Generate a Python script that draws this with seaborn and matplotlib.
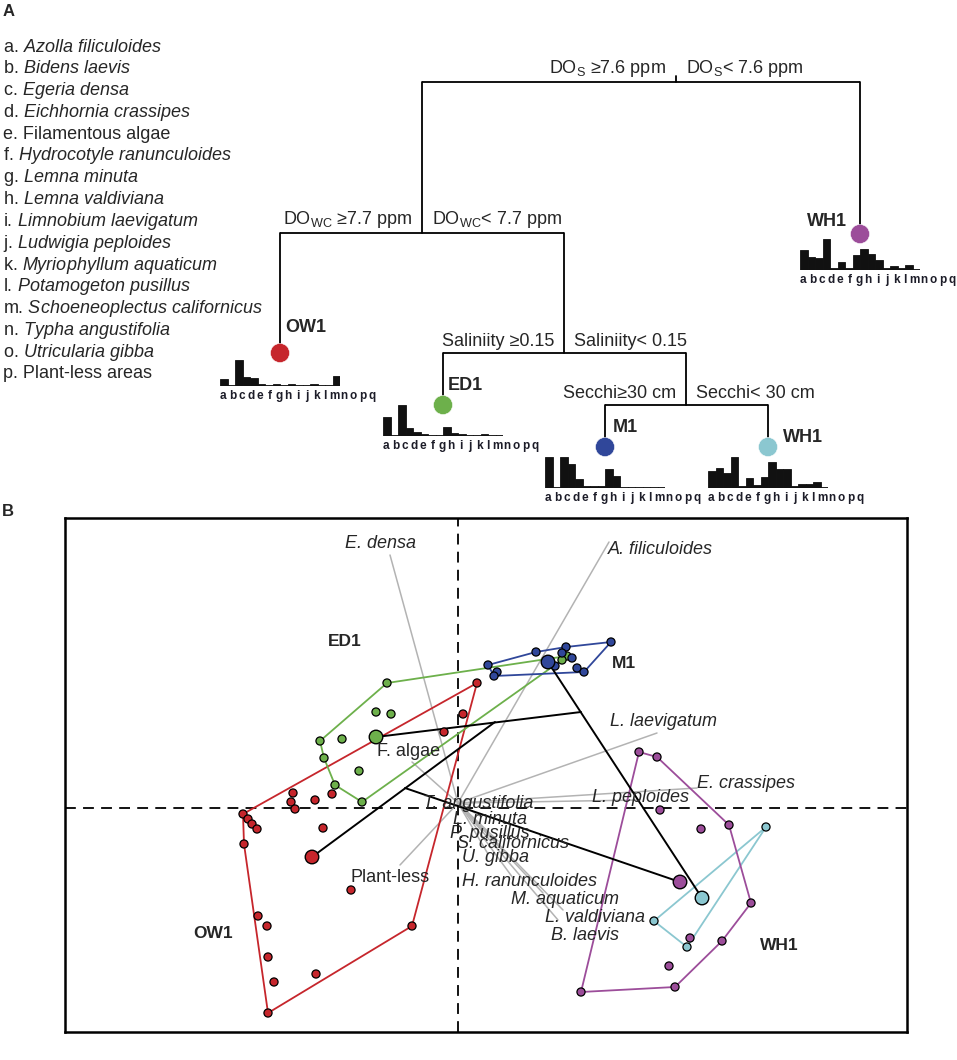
import numpy as np
import pandas as pd
import matplotlib
matplotlib.use("Agg")
import matplotlib.pyplot as plt
import seaborn as sns

# ---- panel A: species legend ----
species_letters = list("abcdefghijklmnop")
species_names = ["Azolla filiculoides", "Bidens laevis", "Egeria densa", "Eichhornia crassipes",
                 "Filamentous algae", "Hydrocotyle ranunculoides", "Lemna minuta", "Lemna valdiviana",
                 "Limnobium laevigatum", "Ludwigia peploides", "Myriophyllum aquaticum",
                 "Potamogeton pusillus", "Schoeneoplectus californicus", "Typha angustifolia",
                 "Utricularia gibba", "Plant-less areas"]
upright_names = ["Filamentous algae", "Plant-less areas"]
axis_letters = list("abcdefghijklmnopq")

# relative cover of each species (a..p) in the leaves of the tree
cover_OW1 = [.23, .03, .84, .29, .27, .06, .04, .05, .03, .05, .04, .03, .05, .03, .04, .32]
cover_ED1 = [.60, .03, 1.0, .25, .14, .05, .04, .04, .29, .10, .05, .03, .03, .06, .04, .02]
cover_M1 = [1.0, .03, 1.0, .77, .29, .06, .06, .06, .61, .39, .04, .03, .03, .03, .03, .02]
cover_WH1c = [.55, .65, .50, 1.0, .08, .32, .10, .35, .84, .61, .61, .06, .13, .13, .19, .03]
cover_WH1p = [.65, .43, .38, 1.0, .05, .27, .05, .48, .67, .52, .32, .06, .14, .06, .16, .03]

# tree splits
split_left_labels = [r"DO$_{\mathrm{S}}$ ≥7.6 ppm", r"DO$_{\mathrm{WC}}$ ≥7.7 ppm",
                     "Saliniity ≥0.15", "Secchi≥30 cm"]
split_right_labels = [r"DO$_{\mathrm{S}}$< 7.6 ppm", r"DO$_{\mathrm{WC}}$< 7.7 ppm",
                      "Saliniity< 0.15", "Secchi< 30 cm"]
leaf_keys = ["OW1", "ED1", "M1", "WH1c", "WH1p"]
leaf_names = ["OW1", "ED1", "M1", "WH1", "WH1"]
leaf_covers = [cover_OW1, cover_ED1, cover_M1, cover_WH1c, cover_WH1p]

# ---- panel B: PCA site scores ----
pts_OW1 = [(0.19, 1.25), (0.05, 0.94), (-0.14, 0.76), (-1.65, 0.15), (-1.67, 0.06), (-1.63, -0.01),
           (-1.43, 0.08), (-1.26, 0.14), (-2.15, -0.06), (-2.10, -0.11), (-2.06, -0.16),
           (-2.01, -0.21), (-1.35, -0.20), (-2.14, -0.36), (-1.07, -0.82), (-2.00, -1.08),
           (-1.91, -1.18), (-1.90, -1.49), (-1.84, -1.74), (-1.90, -2.05), (-1.42, -1.66),
           (-0.46, -1.18)]
pts_ED1 = [(-0.71, 1.25), (-0.82, 0.96), (-0.67, 0.94), (-1.38, 0.67), (-1.16, 0.69), (-1.34, 0.50),
           (-0.99, 0.37), (-1.23, 0.23), (-0.96, 0.06), (1.09, 1.52), (1.04, 1.48)]
pts_M1 = [(0.30, 1.43), (0.39, 1.36), (0.36, 1.32), (0.78, 1.56), (1.08, 1.61), (1.04, 1.55),
          (1.14, 1.50), (0.97, 1.42), (1.19, 1.40), (1.26, 1.36), (1.53, 1.66)]
pts_WH1c = [(3.08, -0.19), (1.96, -1.13), (2.29, -1.39)]
pts_WH1p = [(1.81, 0.56), (1.99, 0.51), (2.02, -0.02), (2.43, -0.21), (2.71, -0.17), (2.93, -0.95),
            (2.32, -1.30), (2.64, -1.33), (2.11, -1.58), (2.17, -1.79), (1.23, -1.84)]
centroids = {"OW1": (-1.46, -0.49), "ED1": (-0.82, 0.71), "M1": (0.90, 1.46),
             "WH1c": (2.44, -0.90), "WH1p": (2.22, -0.74)}
# tree nodes projected in the ordination
split_nodes = {"secchi": (1.23, 0.96), "dowc": (0.37, 0.86), "root": (-0.53, 0.20)}
tree_links = [("ED1", "secchi"), ("M1", "WH1c"), ("OW1", "dowc"), ("root", "WH1p")]

# species vectors
vec_names = ["E. densa", "A. filiculoides", "L. laevigatum", "E. crassipes", "L. peploides",
             "T. angustifolia", "L. minuta", "P. pusillus", "S. californicus", "U. gibba",
             "H. ranunculoides", "M. aquaticum", "L. valdiviana", "B. laevis", "F. algae",
             "Plant-less"]
vec_pc1 = [-0.68, 1.51, 1.99, 2.39, 1.82, 0.12, 0.22, 0.22, 0.40, 0.30, 0.55, 0.85, 1.05, 1.00, -0.46, -0.58]
vec_pc2 = [2.53, 2.66, 0.75, 0.20, 0.08, 0.03, -0.08, -0.20, -0.33, -0.46, -0.70, -0.85, -1.02, -1.12, 0.46, -0.57]
lab_pc1 = [-0.78, 1.50, 2.06, 2.39, 1.82, 0.20, 0.32, 0.32, 0.55, 0.37, 0.72, 1.07, 1.37, 1.27, -0.49, -0.68]
lab_pc2 = [2.65, 2.58, 0.86, 0.24, 0.10, 0.04, -0.12, -0.25, -0.36, -0.50, -0.74, -0.91, -1.09, -1.27, 0.57, -0.69]
lab_ha = ["center", "left", "center", "left"] + ["center"] * 12

colors = {"OW1": "#C6262C", "ED1": "#6DB04B", "M1": "#30479A", "WH1c": "#8BC7D0", "WH1p": "#9C4D9A"}

sns.set_theme(style="white")
plt.rcParams['font.family'] = ['Liberation Sans', 'DejaVu Sans']
plt.rcParams['mathtext.fontset'] = 'custom'
plt.rcParams['mathtext.rm'] = 'Liberation Sans'
plt.rcParams['mathtext.it'] = 'Liberation Sans:italic'
plt.rcParams['mathtext.bf'] = 'Liberation Sans:bold'

W, H = 957, 1060
fig = plt.figure(figsize=(W / 100, H / 100), dpi=100)
fig.patch.set_facecolor("white")

# overlay axes in pixel units for panel A
ax_a = fig.add_axes([0, 0, 1, 1])
ax_a.set_xlim(0, W)
ax_a.set_ylim(H, 0)
ax_a.axis("off")

ax_a.text(9, 12, "A", fontsize=12, fontweight="bold", ha="center", va="center")
ax_a.text(8, 512, "B", fontsize=12, fontweight="bold", ha="center", va="center")

for i, (l, name) in enumerate(zip(species_letters, species_names)):
    if name in upright_names:
        s = f"{l}. {name}"
    else:
        s = f"{l}. " + r"$\mathit{" + name.replace(" ", r"\ ") + "}$"
    ax_a.text(3, 47 + i * 21.8, s, fontsize=13, ha="left", va="center")

# tree layout (pixels)
split_x = [676, 422, 564, 686]
split_y = [82, 233, 353, 405]
split_top = [None, 82, 233, 353]
split_span = [(422, 860), (280, 564), (443, 686), (605, 768)]
leaf_x = [280, 443, 605, 768, 860]
leaf_y = [353, 405, 447, 447, 234]
leaf_parent_y = [233, 353, 405, 405, 82]
bar_base = [386, 436, 488, 488, 270]
leaf_lab = [(285, 328, "left"), (448, 385, "left"), (613, 428, "left"),
            (783, 437, "left"), (847, 222, "right")]

lw = 1.3
for i in range(len(split_x)):
    x0, x1 = split_span[i]
    ax_a.plot([x0, x1], [split_y[i], split_y[i]], color="black", lw=lw, solid_capstyle="butt")
    if split_top[i] is None:
        ax_a.plot([split_x[i], split_x[i]], [split_y[i] - 6, split_y[i]], color="black", lw=lw)
    else:
        ax_a.plot([split_x[i], split_x[i]], [split_top[i], split_y[i]], color="black", lw=lw)
    ax_a.text(split_x[i] - 10, split_y[i] - 3, split_left_labels[i], fontsize=13,
              ha="right", va="bottom")
    ax_a.text(split_x[i] + 10, split_y[i] - 3, split_right_labels[i], fontsize=13,
              ha="left", va="bottom")

for i, key in enumerate(leaf_keys):
    ax_a.plot([leaf_x[i], leaf_x[i]], [leaf_parent_y[i], leaf_y[i]], color="black", lw=lw)
    lx, ly, ha = leaf_lab[i]
    ax_a.text(lx, ly, leaf_names[i], fontsize=13, fontweight="bold", ha=ha, va="center")

leaf_df = pd.DataFrame({"x": leaf_x, "y": leaf_y, "key": leaf_keys})
sns.scatterplot(data=leaf_df, x="x", y="y", hue="key", palette=colors, s=190,
                edgecolor="white", linewidth=0.4, legend=False, ax=ax_a, zorder=5)

# bar charts under the leaves
bar_w = 120
bar_h = 31
for i, key in enumerate(leaf_keys):
    left = leaf_x[i] - bar_w / 2
    axb = fig.add_axes([left / W, (H - bar_base[i]) / H, bar_w / W, bar_h / H])
    sns.barplot(x=list(range(len(leaf_covers[i]))), y=leaf_covers[i], color="#111111",
                width=1.0, saturation=1, linewidth=0.6, edgecolor="#111111", ax=axb)
    axb.set_xlim(-0.5, 15.5)
    axb.set_ylim(0, 1)
    axb.axis("off")
    for k, letter in enumerate(axis_letters):
        ax_a.text(left + 3 + k * 9.3, bar_base[i] + 10, letter, fontsize=8.5,
                  fontweight="semibold", color="#1c1c28", ha="center", va="center")

# ---- panel B ----
ax = fig.add_axes([65 / W, (H - 1032) / H, (907 - 65) / W, (1032 - 518) / H])
ax.set_xlim(-3.93, 4.49)
ax.set_ylim(-2.24, 2.90)
ax.set_xticks([])
ax.set_yticks([])
for sp in ax.spines.values():
    sp.set_color("black")
    sp.set_linewidth(1.8)

ax.axvline(0, color="black", lw=1.3, dashes=(6, 4), zorder=1)
ax.axhline(0, color="black", lw=1.3, dashes=(6, 4), zorder=1)

vec_origin = (0.0, 0.05)
for i, name in enumerate(vec_names):
    ax.plot([vec_origin[0], vec_pc1[i]], [vec_origin[1], vec_pc2[i]], color="#b3b3b3", lw=1.1, zorder=1)
    style = "normal" if name in ("F. algae", "Plant-less") else "italic"
    ax.text(lab_pc1[i], lab_pc2[i], name, fontsize=13, fontstyle=style,
            ha=lab_ha[i], va="center", zorder=6)


def convex_hull(points):
    p = sorted(set(points))

    def cross(o, a, b):
        return (a[0] - o[0]) * (b[1] - o[1]) - (a[1] - o[1]) * (b[0] - o[0])

    lower, upper = [], []
    for q in p:
        while len(lower) >= 2 and cross(lower[-2], lower[-1], q) <= 0:
            lower.pop()
        lower.append(q)
    for q in reversed(p):
        while len(upper) >= 2 and cross(upper[-2], upper[-1], q) <= 0:
            upper.pop()
        upper.append(q)
    return lower[:-1] + upper[:-1]


groups = {"OW1": pts_OW1, "ED1": pts_ED1, "M1": pts_M1, "WH1c": pts_WH1c, "WH1p": pts_WH1p}
rows = []
for key, pts in groups.items():
    h = convex_hull(pts)
    hx = [q[0] for q in h] + [h[0][0]]
    hy = [q[1] for q in h] + [h[0][1]]
    ax.plot(hx, hy, color=colors[key], lw=1.3, zorder=2)
    for q in pts:
        rows.append({"pc1": q[0], "pc2": q[1], "group": key})
site_df = pd.DataFrame(rows)

all_nodes = dict(centroids)
all_nodes.update(split_nodes)
for a, b in tree_links:
    ax.plot([all_nodes[a][0], all_nodes[b][0]], [all_nodes[a][1], all_nodes[b][1]],
            color="black", lw=1.4, zorder=3)

sns.scatterplot(data=site_df, x="pc1", y="pc2", hue="group", palette=colors, s=34,
                edgecolor="black", linewidth=0.9, legend=False, ax=ax, zorder=4)
cen_df = pd.DataFrame({"pc1": [v[0] for v in centroids.values()],
                       "pc2": [v[1] for v in centroids.values()],
                       "group": list(centroids.keys())})
sns.scatterplot(data=cen_df, x="pc1", y="pc2", hue="group", palette=colors, s=95,
                edgecolor="black", linewidth=1.0, legend=False, ax=ax, zorder=5)

clus_names = ["ED1", "M1", "OW1", "WH1"]
clus_pc1 = [-1.13, 1.66, -2.45, 3.21]
clus_pc2 = [1.66, 1.44, -1.25, -1.38]
for n, x, y in zip(clus_names, clus_pc1, clus_pc2):
    ax.text(x, y, n, fontsize=12.5, fontweight="bold", ha="center", va="center", zorder=6)

ax.set_xlabel("PC1", fontsize=11)
ax.set_ylabel("PC2", fontsize=11)
ax.xaxis.set_label_coords(3.93 / 8.42, -0.021)
ax.yaxis.set_label_coords(-0.021, 2.24 / 5.14)

fig.savefig("out.png", dpi=100)
